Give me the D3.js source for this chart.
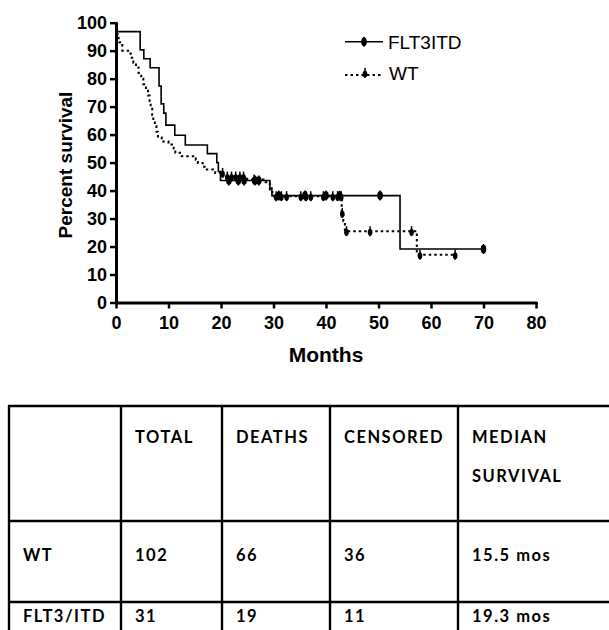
<!DOCTYPE html>
<html><head><meta charset="utf-8">
<script src="https://cdn.jsdelivr.net/npm/d3@7"></script>
<style>body{margin:0;background:#fff}svg{display:block}</style>
</head><body>
<svg id="c" width="609" height="630"></svg>
<script>
// ---- data ----
const xTicks = [0,10,20,30,40,50,60,70,80];
const yTicks = [0,10,20,30,40,50,60,70,80,90,100];
const seriesNames = ["FLT3ITD","WT"];
// Kaplan-Meier steps [months, percent]
const fltSteps = [[0,96.8],[4.6,90.3],[5.3,87.1],[6.5,83.9],[8.2,77.4],[8.6,71.0],[9.1,67.7],[9.5,63.4],[11.2,59.8],[13.2,56.3],[17.4,53.2],[19.2,50.0],[19.5,46.8],[19.9,43.6],[29.3,40.9],[29.7,38.2],[54.1,19.1]];
const fltEnd = 70;
const fltCensor = [[21.5,43.6],[23.3,43.6],[24.4,43.6],[26.5,43.6],[27.2,43.6],[31,38.2],[36,38.2],[40,38.2],[42.6,38.2],[50.3,38.2],[70,19.1]];
const wtSteps = [[0,96],[0.5,93],[1.2,90],[2.3,89],[2.8,87.5],[3.3,85.7],[3.8,84],[4.3,82],[4.8,80],[5.2,78],[5.7,76],[6.1,74],[6.4,72],[6.6,70],[6.9,67],[7.1,65],[7.4,63],[7.7,61],[8.0,59],[8.7,57.5],[10.0,56.5],[11.0,55],[11.3,53.5],[12.2,52.3],[15.2,51],[15.6,49.9],[16.5,48.5],[17.3,47.5],[18.9,46.3],[20.4,45],[25,44],[28.5,43],[29.3,40],[29.8,38],[43.0,32],[43.3,29],[43.6,25.5],[57.3,17.1]];
const wtEnd = 64.6;
const wtCensor = [[20.3,46.3],[21.2,45],[22.0,45],[22.8,45],[23.6,45],[24.3,45],[26.3,44],[30.5,38],[31.5,38],[32.5,38],[35.2,38],[36.2,38],[37.1,38],[39.5,38],[41.3,38],[42.2,38],[42.9,38],[43.1,32],[43.9,25.5],[48.4,25.5],[56.3,25.5],[57.9,17.1],[64.6,17.1]];
// table
const tableHeader = ["", "TOTAL", "DEATHS", "CENSORED", "MEDIAN|SURVIVAL"];
const rowLabels = ["WT", "FLT3/ITD"];
const totals = ["102", "31"];
const deaths = ["66", "19"];
const censored = ["36", "11"];
const medians = ["15.5 mos", "19.3 mos"];

// ---- chart ----
const svg = d3.select("#c");
const x = d3.scaleLinear().domain([0,80]).range([116,536]);
const y = d3.scaleLinear().domain([0,100]).range([302.5,22.7]);
const FONT = "'Liberation Sans', Arial, sans-serif";

const gx = svg.append("g").attr("transform","translate(0,302.5)")
  .call(d3.axisBottom(x).tickValues(xTicks).tickSize(6).tickSizeOuter(0).tickPadding(8));
const gy = svg.append("g").attr("transform","translate(116,0)")
  .call(d3.axisLeft(y).tickValues(yTicks).tickSize(6).tickSizeOuter(0).tickPadding(3));
[gx,gy].forEach(g=>{
  g.select(".domain").attr("stroke","#000").attr("stroke-width",3).attr("stroke-linecap","round");
  g.selectAll(".tick line").attr("stroke","#000").attr("stroke-width",2.5);
  g.selectAll(".tick text").attr("fill","#000").style("font-family",FONT).style("font-weight","bold").style("font-size","18px");
});

svg.append("text").attr("transform","translate(72,165) rotate(-90)").attr("text-anchor","middle")
  .style("font-family",FONT).style("font-weight","bold").style("font-size","19px").text("Percent survival");
svg.append("text").attr("x",326).attr("y",362).attr("text-anchor","middle")
  .style("font-family",FONT).style("font-weight","bold").style("font-size","21px").text("Months");

const line = d3.line().x(d=>x(d[0])).y(d=>y(d[1])).curve(d3.curveStepAfter);
function series(steps,end,dash,w){
  const pts = steps.concat([[end, steps[steps.length-1][1]]]);
  svg.append("path").datum(pts).attr("d",line).attr("fill","none").attr("stroke","#000")
    .attr("stroke-width",w).attr("stroke-dasharray",dash);
}
series(wtSteps,wtEnd,"2.5,3",2);
series(fltSteps,fltEnd,null,1.6);

function censor(g,cx,cy,big){
  g.append("line").attr("x1",cx).attr("x2",cx).attr("y1",cy-5).attr("y2",cy+5).attr("stroke","#000").attr("stroke-width",1.5);
  g.append("ellipse").attr("cx",cx).attr("cy",cy+(big?0:1)).attr("rx",big?2.8:2.3).attr("ry",big?4.3:3.5).attr("fill","#000");
}
const cg = svg.append("g");
wtCensor.forEach(d=>censor(cg,x(d[0]),y(d[1]),false));
fltCensor.forEach(d=>censor(cg,x(d[0]),y(d[1]),true));

// legend
const lg = svg.append("g");
lg.append("line").attr("x1",345).attr("x2",383).attr("y1",41.7).attr("y2",41.7).attr("stroke","#000").attr("stroke-width",1.6);
censor(lg,364,41.7,true);
lg.append("text").attr("x",388).attr("y",48.5).style("font-family",FONT).style("font-size","19px").text(seriesNames[0]);
lg.append("line").attr("x1",345).attr("x2",383).attr("y1",75).attr("y2",75).attr("stroke","#000").attr("stroke-width",2).attr("stroke-dasharray","2.5,3");
censor(lg,365,73,false);
lg.append("text").attr("x",389).attr("y",80).style("font-family",FONT).style("font-size","19px").text(seriesNames[1]);

// ---- table ----
const colX = [9,121,222,330,458,640];
const rowY = [406,521,602,660];
const tg = svg.append("g");
rowY.slice(0,3).forEach(yy=>tg.append("line").attr("x1",8).attr("x2",620).attr("y1",yy).attr("y2",yy).attr("stroke","#000").attr("stroke-width",2.4));
colX.slice(0,5).forEach(xx=>tg.append("line").attr("x1",xx).attr("x2",xx).attr("y1",405).attr("y2",640).attr("stroke","#000").attr("stroke-width",2.4));
const TF = "Lato, 'Open Sans', sans-serif";
function cell(ci,yy,txt){
  tg.append("text").attr("x",colX[ci]+14).attr("y",yy).style("font-family",TF).style("font-weight","bold")
    .style("font-size","16.5px").style("letter-spacing","1.5px").text(txt);
}
tableHeader.forEach((h,i)=>{
  if(!h) return;
  h.split("|").forEach((p,k)=>cell(i,443+k*39,p));
});
const cols = [rowLabels,totals,deaths,censored,medians];
[0,1].forEach(r=>{
  const yy = [561,622][r];
  cols.forEach((c,i)=>cell(i,yy,c[r]));
});
</script>
</body></html>
